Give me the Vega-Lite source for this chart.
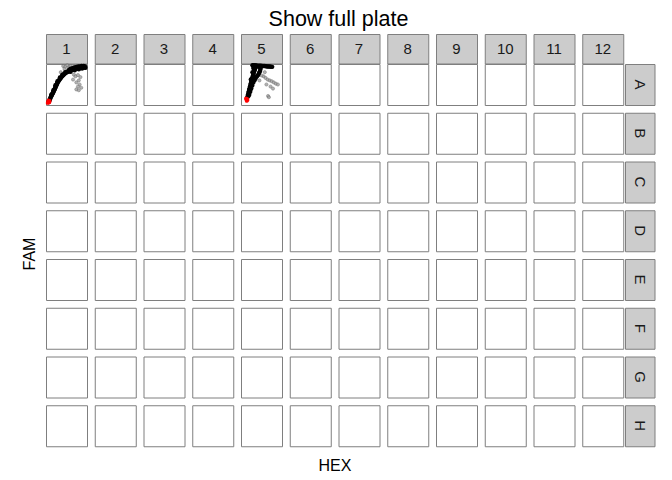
{
 "$schema": "https://vega.github.io/schema/vega-lite/v6.json",
 "padding": {"left": 22, "top": 9, "right": 5, "bottom": 5},
 "title": {"text": "Show full plate", "fontSize": 21.5, "fontWeight": "normal", "font": "Liberation Sans", "color": "black", "anchor": "middle", "offset": 3},
 "config": {
  "view": {"stroke": "#7f7f7f", "strokeWidth": 1},
  "font": "Liberation Sans",
  "header": {"titleFont": "Liberation Sans", "titleFontWeight": "normal", "titleFontSize": 16, "titleColor": "black", "labelPadding": 0}
 },
 "datasets": {
  "cols": [{"col":1,"strip":"s"},{"col":2,"strip":"s"},{"col":3,"strip":"s"},{"col":4,"strip":"s"},{"col":5,"strip":"s"},{"col":6,"strip":"s"},{"col":7,"strip":"s"},{"col":8,"strip":"s"},{"col":9,"strip":"s"},{"col":10,"strip":"s"},{"col":11,"strip":"s"},{"col":12,"strip":"s"}],
  "rows": [{"row":"A"},{"row":"B"},{"row":"C"},{"row":"D"},{"row":"E"},{"row":"F"},{"row":"G"},{"row":"H"}],
  "plate": [
   {"row":"A","col":1},{"row":"A","col":2},{"row":"A","col":3},{"row":"A","col":4},{"row":"A","col":5},{"row":"A","col":6},{"row":"A","col":7},{"row":"A","col":8},{"row":"A","col":9},{"row":"A","col":10},{"row":"A","col":11},{"row":"A","col":12},
   {"row":"B","col":1},{"row":"B","col":2},{"row":"B","col":3},{"row":"B","col":4},{"row":"B","col":5},{"row":"B","col":6},{"row":"B","col":7},{"row":"B","col":8},{"row":"B","col":9},{"row":"B","col":10},{"row":"B","col":11},{"row":"B","col":12},
   {"row":"C","col":1},{"row":"C","col":2},{"row":"C","col":3},{"row":"C","col":4},{"row":"C","col":5},{"row":"C","col":6},{"row":"C","col":7},{"row":"C","col":8},{"row":"C","col":9},{"row":"C","col":10},{"row":"C","col":11},{"row":"C","col":12},
   {"row":"D","col":1},{"row":"D","col":2},{"row":"D","col":3},{"row":"D","col":4},{"row":"D","col":5},{"row":"D","col":6},{"row":"D","col":7},{"row":"D","col":8},{"row":"D","col":9},{"row":"D","col":10},{"row":"D","col":11},{"row":"D","col":12},
   {"row":"E","col":1},{"row":"E","col":2},{"row":"E","col":3},{"row":"E","col":4},{"row":"E","col":5},{"row":"E","col":6},{"row":"E","col":7},{"row":"E","col":8},{"row":"E","col":9},{"row":"E","col":10},{"row":"E","col":11},{"row":"E","col":12},
   {"row":"F","col":1},{"row":"F","col":2},{"row":"F","col":3},{"row":"F","col":4},{"row":"F","col":5},{"row":"F","col":6},{"row":"F","col":7},{"row":"F","col":8},{"row":"F","col":9},{"row":"F","col":10},{"row":"F","col":11},{"row":"F","col":12},
   {"row":"G","col":1},{"row":"G","col":2},{"row":"G","col":3},{"row":"G","col":4},{"row":"G","col":5},{"row":"G","col":6},{"row":"G","col":7},{"row":"G","col":8},{"row":"G","col":9},{"row":"G","col":10},{"row":"G","col":11},{"row":"G","col":12},
   {"row":"H","col":1},{"row":"H","col":2},{"row":"H","col":3},{"row":"H","col":4},{"row":"H","col":5},{"row":"H","col":6},{"row":"H","col":7},{"row":"H","col":8},{"row":"H","col":9},{"row":"H","col":10},{"row":"H","col":11},{"row":"H","col":12},

   {"row":"A","col":1,"cls":"rain","HEX":3360,"FAM":11400},{"row":"A","col":1,"cls":"rain","HEX":3760,"FAM":11160},{"row":"A","col":1,"cls":"rain","HEX":4160,"FAM":11640},{"row":"A","col":1,"cls":"rain","HEX":4480,"FAM":11040},{"row":"A","col":1,"cls":"rain","HEX":4800,"FAM":11400},{"row":"A","col":1,"cls":"rain","HEX":3600,"FAM":10560},{"row":"A","col":1,"cls":"rain","HEX":2880,"FAM":9600},{"row":"A","col":1,"cls":"rain","HEX":5440,"FAM":8880},{"row":"A","col":1,"cls":"rain","HEX":5760,"FAM":8400},{"row":"A","col":1,"cls":"rain","HEX":6240,"FAM":8760},{"row":"A","col":1,"cls":"rain","HEX":6720,"FAM":8160},{"row":"A","col":1,"cls":"rain","HEX":6400,"FAM":7200},{"row":"A","col":1,"cls":"rain","HEX":5920,"FAM":6600},{"row":"A","col":1,"cls":"rain","HEX":6560,"FAM":6000},{"row":"A","col":1,"cls":"rain","HEX":6240,"FAM":5400},{"row":"A","col":1,"cls":"rain","HEX":6880,"FAM":5040},{"row":"A","col":1,"cls":"rain","HEX":5920,"FAM":4560},{"row":"A","col":1,"cls":"rain","HEX":6400,"FAM":4320},{"row":"A","col":1,"cls":"rain","HEX":5280,"FAM":7440},

   {"row":"A","col":1,"cls":"drop","HEX":480,"FAM":840},{"row":"A","col":1,"cls":"drop","HEX":640,"FAM":1320},{"row":"A","col":1,"cls":"drop","HEX":800,"FAM":1800},{"row":"A","col":1,"cls":"drop","HEX":960,"FAM":2400},{"row":"A","col":1,"cls":"drop","HEX":1120,"FAM":2880},{"row":"A","col":1,"cls":"drop","HEX":1280,"FAM":3360},{"row":"A","col":1,"cls":"drop","HEX":1440,"FAM":3840},{"row":"A","col":1,"cls":"drop","HEX":1600,"FAM":4320},{"row":"A","col":1,"cls":"drop","HEX":1760,"FAM":4920},{"row":"A","col":1,"cls":"drop","HEX":1920,"FAM":5520},{"row":"A","col":1,"cls":"drop","HEX":2080,"FAM":6000},{"row":"A","col":1,"cls":"drop","HEX":2240,"FAM":6480},{"row":"A","col":1,"cls":"drop","HEX":2400,"FAM":6960},{"row":"A","col":1,"cls":"drop","HEX":2640,"FAM":7440},{"row":"A","col":1,"cls":"drop","HEX":2880,"FAM":7920},{"row":"A","col":1,"cls":"drop","HEX":3120,"FAM":8400},{"row":"A","col":1,"cls":"drop","HEX":3360,"FAM":8760},{"row":"A","col":1,"cls":"drop","HEX":3600,"FAM":9120},{"row":"A","col":1,"cls":"drop","HEX":3920,"FAM":9480},{"row":"A","col":1,"cls":"drop","HEX":4240,"FAM":9720},{"row":"A","col":1,"cls":"drop","HEX":4560,"FAM":9960},{"row":"A","col":1,"cls":"drop","HEX":4880,"FAM":10200},{"row":"A","col":1,"cls":"drop","HEX":5200,"FAM":10440},{"row":"A","col":1,"cls":"drop","HEX":5520,"FAM":10560},{"row":"A","col":1,"cls":"drop","HEX":5840,"FAM":10680},{"row":"A","col":1,"cls":"drop","HEX":6160,"FAM":10800},{"row":"A","col":1,"cls":"drop","HEX":6480,"FAM":10920},{"row":"A","col":1,"cls":"drop","HEX":6800,"FAM":11040},{"row":"A","col":1,"cls":"drop","HEX":7120,"FAM":11040},{"row":"A","col":1,"cls":"drop","HEX":7440,"FAM":11040},{"row":"A","col":1,"cls":"drop","HEX":7680,"FAM":10920},
   {"row":"A","col":1,"cls":"drop","HEX":4400,"FAM":10200},{"row":"A","col":1,"cls":"drop","HEX":5040,"FAM":10680},{"row":"A","col":1,"cls":"drop","HEX":5680,"FAM":11040},{"row":"A","col":1,"cls":"drop","HEX":6320,"FAM":11280},{"row":"A","col":1,"cls":"drop","HEX":6960,"FAM":11400},{"row":"A","col":1,"cls":"drop","HEX":7360,"FAM":11400},{"row":"A","col":1,"cls":"drop","HEX":4800,"FAM":9720},{"row":"A","col":1,"cls":"drop","HEX":5600,"FAM":10200},{"row":"A","col":1,"cls":"drop","HEX":6400,"FAM":10440},{"row":"A","col":1,"cls":"drop","HEX":7040,"FAM":10680},{"row":"A","col":1,"cls":"drop","HEX":7600,"FAM":11280},{"row":"A","col":1,"cls":"drop","HEX":3760,"FAM":9600},{"row":"A","col":1,"cls":"drop","HEX":3200,"FAM":8880},{"row":"A","col":1,"cls":"drop","HEX":2720,"FAM":8040},{"row":"A","col":1,"cls":"drop","HEX":2240,"FAM":6960},{"row":"A","col":1,"cls":"drop","HEX":1840,"FAM":5760},{"row":"A","col":1,"cls":"drop","HEX":1440,"FAM":4320},{"row":"A","col":1,"cls":"drop","HEX":1040,"FAM":3000},
   {"row":"A","col":1,"cls":"drop","HEX":560,"FAM":1080},{"row":"A","col":1,"cls":"drop","HEX":720,"FAM":1560},{"row":"A","col":1,"cls":"drop","HEX":880,"FAM":2100},{"row":"A","col":1,"cls":"drop","HEX":1040,"FAM":2640},{"row":"A","col":1,"cls":"drop","HEX":1200,"FAM":3120},{"row":"A","col":1,"cls":"drop","HEX":1360,"FAM":3600},{"row":"A","col":1,"cls":"drop","HEX":1520,"FAM":4080},{"row":"A","col":1,"cls":"drop","HEX":1680,"FAM":4620},{"row":"A","col":1,"cls":"drop","HEX":1840,"FAM":5220},{"row":"A","col":1,"cls":"drop","HEX":2000,"FAM":5760},{"row":"A","col":1,"cls":"drop","HEX":2160,"FAM":6240},{"row":"A","col":1,"cls":"drop","HEX":2320,"FAM":6720},{"row":"A","col":1,"cls":"drop","HEX":2520,"FAM":7200},{"row":"A","col":1,"cls":"drop","HEX":2760,"FAM":7680},{"row":"A","col":1,"cls":"drop","HEX":3000,"FAM":8160},{"row":"A","col":1,"cls":"drop","HEX":3240,"FAM":8580},{"row":"A","col":1,"cls":"drop","HEX":3480,"FAM":8940},{"row":"A","col":1,"cls":"drop","HEX":3760,"FAM":9300},{"row":"A","col":1,"cls":"drop","HEX":4080,"FAM":9600},{"row":"A","col":1,"cls":"drop","HEX":4400,"FAM":9840},{"row":"A","col":1,"cls":"drop","HEX":4720,"FAM":10080},{"row":"A","col":1,"cls":"drop","HEX":5040,"FAM":10320},{"row":"A","col":1,"cls":"drop","HEX":5360,"FAM":10500},{"row":"A","col":1,"cls":"drop","HEX":5680,"FAM":10620},{"row":"A","col":1,"cls":"drop","HEX":6000,"FAM":10740},{"row":"A","col":1,"cls":"drop","HEX":6320,"FAM":10860},{"row":"A","col":1,"cls":"drop","HEX":6640,"FAM":10980},{"row":"A","col":1,"cls":"drop","HEX":6960,"FAM":11040},{"row":"A","col":1,"cls":"drop","HEX":7280,"FAM":11040},{"row":"A","col":1,"cls":"drop","HEX":7560,"FAM":10980},{"row":"A","col":1,"cls":"drop","HEX":6000,"FAM":11160},{"row":"A","col":1,"cls":"drop","HEX":6640,"FAM":11280},{"row":"A","col":1,"cls":"drop","HEX":7200,"FAM":11280},{"row":"A","col":1,"cls":"drop","HEX":7500,"FAM":11160},{"row":"A","col":1,"cls":"drop","HEX":5360,"FAM":10920},{"row":"A","col":1,"cls":"drop","HEX":4720,"FAM":10560},

   {"row":"A","col":1,"cls":"empty","HEX":400,"FAM":960},{"row":"A","col":1,"cls":"empty","HEX":560,"FAM":720},{"row":"A","col":1,"cls":"empty","HEX":720,"FAM":1200},{"row":"A","col":1,"cls":"empty","HEX":480,"FAM":1320},{"row":"A","col":1,"cls":"empty","HEX":640,"FAM":840},{"row":"A","col":1,"cls":"empty","HEX":320,"FAM":600},

   {"row":"A","col":5,"cls":"rain","HEX":4400,"FAM":8400},{"row":"A","col":5,"cls":"rain","HEX":4800,"FAM":7920},{"row":"A","col":5,"cls":"rain","HEX":5200,"FAM":7440},{"row":"A","col":5,"cls":"rain","HEX":5600,"FAM":7200},{"row":"A","col":5,"cls":"rain","HEX":6000,"FAM":6960},{"row":"A","col":5,"cls":"rain","HEX":6400,"FAM":6600},{"row":"A","col":5,"cls":"rain","HEX":6800,"FAM":6240},{"row":"A","col":5,"cls":"rain","HEX":7200,"FAM":6000},{"row":"A","col":5,"cls":"rain","HEX":4960,"FAM":6000},{"row":"A","col":5,"cls":"rain","HEX":5760,"FAM":5400},{"row":"A","col":5,"cls":"rain","HEX":4640,"FAM":9600},{"row":"A","col":5,"cls":"rain","HEX":4000,"FAM":8640},{"row":"A","col":5,"cls":"rain","HEX":3600,"FAM":7200},{"row":"A","col":5,"cls":"rain","HEX":5280,"FAM":2640},{"row":"A","col":5,"cls":"rain","HEX":5440,"FAM":2280},{"row":"A","col":5,"cls":"rain","HEX":6240,"FAM":4800},

   {"row":"A","col":5,"cls":"drop","HEX":1200,"FAM":2040},{"row":"A","col":5,"cls":"drop","HEX":1360,"FAM":3000},{"row":"A","col":5,"cls":"drop","HEX":1520,"FAM":3960},{"row":"A","col":5,"cls":"drop","HEX":1680,"FAM":4920},{"row":"A","col":5,"cls":"drop","HEX":1840,"FAM":5880},{"row":"A","col":5,"cls":"drop","HEX":2000,"FAM":6840},{"row":"A","col":5,"cls":"drop","HEX":2160,"FAM":7680},{"row":"A","col":5,"cls":"drop","HEX":2320,"FAM":8520},{"row":"A","col":5,"cls":"drop","HEX":2480,"FAM":9360},{"row":"A","col":5,"cls":"drop","HEX":2640,"FAM":10200},{"row":"A","col":5,"cls":"drop","HEX":2800,"FAM":10920},{"row":"A","col":5,"cls":"drop","HEX":2960,"FAM":11400},
   {"row":"A","col":5,"cls":"drop","HEX":1440,"FAM":2640},{"row":"A","col":5,"cls":"drop","HEX":1760,"FAM":4320},{"row":"A","col":5,"cls":"drop","HEX":2080,"FAM":6000},{"row":"A","col":5,"cls":"drop","HEX":1920,"FAM":7440},{"row":"A","col":5,"cls":"drop","HEX":2240,"FAM":9600},{"row":"A","col":5,"cls":"drop","HEX":2400,"FAM":10800},
   {"row":"A","col":5,"cls":"drop","HEX":1600,"FAM":3000},{"row":"A","col":5,"cls":"drop","HEX":2000,"FAM":4800},{"row":"A","col":5,"cls":"drop","HEX":2400,"FAM":6600},{"row":"A","col":5,"cls":"drop","HEX":2880,"FAM":7920},{"row":"A","col":5,"cls":"drop","HEX":3360,"FAM":8880},{"row":"A","col":5,"cls":"drop","HEX":3680,"FAM":9840},{"row":"A","col":5,"cls":"drop","HEX":3840,"FAM":10800},
   {"row":"A","col":5,"cls":"drop","HEX":2240,"FAM":11640},{"row":"A","col":5,"cls":"drop","HEX":2720,"FAM":11640},{"row":"A","col":5,"cls":"drop","HEX":3200,"FAM":11520},{"row":"A","col":5,"cls":"drop","HEX":3680,"FAM":11520},{"row":"A","col":5,"cls":"drop","HEX":4160,"FAM":11400},{"row":"A","col":5,"cls":"drop","HEX":4640,"FAM":11400},{"row":"A","col":5,"cls":"drop","HEX":5120,"FAM":11280},{"row":"A","col":5,"cls":"drop","HEX":5600,"FAM":11280},{"row":"A","col":5,"cls":"drop","HEX":6080,"FAM":11160},{"row":"A","col":5,"cls":"drop","HEX":3440,"FAM":11160},
   {"row":"A","col":5,"cls":"drop","HEX":1280,"FAM":2520},{"row":"A","col":5,"cls":"drop","HEX":1440,"FAM":3480},{"row":"A","col":5,"cls":"drop","HEX":1600,"FAM":4440},{"row":"A","col":5,"cls":"drop","HEX":1760,"FAM":5400},{"row":"A","col":5,"cls":"drop","HEX":1920,"FAM":6360},{"row":"A","col":5,"cls":"drop","HEX":2080,"FAM":7260},{"row":"A","col":5,"cls":"drop","HEX":2240,"FAM":8100},{"row":"A","col":5,"cls":"drop","HEX":2400,"FAM":8940},{"row":"A","col":5,"cls":"drop","HEX":2560,"FAM":9780},{"row":"A","col":5,"cls":"drop","HEX":2720,"FAM":10560},{"row":"A","col":5,"cls":"drop","HEX":2880,"FAM":11160},
   {"row":"A","col":5,"cls":"drop","HEX":1800,"FAM":3900},{"row":"A","col":5,"cls":"drop","HEX":2200,"FAM":5700},{"row":"A","col":5,"cls":"drop","HEX":2640,"FAM":7260},{"row":"A","col":5,"cls":"drop","HEX":3120,"FAM":8400},{"row":"A","col":5,"cls":"drop","HEX":3520,"FAM":9360},{"row":"A","col":5,"cls":"drop","HEX":3760,"FAM":10320},
   {"row":"A","col":5,"cls":"drop","HEX":2480,"FAM":11640},{"row":"A","col":5,"cls":"drop","HEX":2960,"FAM":11580},{"row":"A","col":5,"cls":"drop","HEX":3440,"FAM":11520},{"row":"A","col":5,"cls":"drop","HEX":3920,"FAM":11460},{"row":"A","col":5,"cls":"drop","HEX":4400,"FAM":11400},{"row":"A","col":5,"cls":"drop","HEX":4880,"FAM":11340},{"row":"A","col":5,"cls":"drop","HEX":5360,"FAM":11280},{"row":"A","col":5,"cls":"drop","HEX":5840,"FAM":11220},

   {"row":"A","col":5,"cls":"empty","HEX":1040,"FAM":1560},{"row":"A","col":5,"cls":"empty","HEX":1200,"FAM":1800},{"row":"A","col":5,"cls":"empty","HEX":960,"FAM":1920},{"row":"A","col":5,"cls":"empty","HEX":1280,"FAM":1440},{"row":"A","col":5,"cls":"empty","HEX":1120,"FAM":1200}
  ]
 },
 "spacing": -3,
 "vconcat": [
  {
   "data": {"name": "cols"},
   "bounds": "flush",
   "facet": {
    "row": {"field": "strip", "header": {"title": "F", "titleColor": "transparent", "labels": false, "titlePadding": -2}},
    "column": {"field": "col", "type": "ordinal", "header": null}
   },
   "spacing": {"column": 7.75, "row": 0},
   "spec": {
    "width": 41, "height": 29.5,
    "view": {"fill": "#cccccc", "stroke": "#7f7f7f", "strokeWidth": 1},
    "mark": {"type": "text", "fontSize": 15, "color": "#1a1a1a", "baseline": "middle", "align": "center"},
    "encoding": {"text": {"field": "col"}}
   }
  },
  {
   "spacing": 0,
   "hconcat": [
    {
     "data": {"name": "plate"},
     "bounds": "flush",
     "facet": {
      "row": {"field": "row", "header": {"title": "FAM", "labels": false, "titlePadding": -2}},
      "column": {"field": "col", "type": "ordinal", "header": {"title": "HEX", "labels": false, "titleOrient": "bottom", "titlePadding": 1}}
     },
     "spacing": {"row": 7.75, "column": 7.75},
     "spec": {
      "width": 41, "height": 41,
      "view": {"fill": "white", "stroke": "#7f7f7f", "strokeWidth": 1},
      "layer": [
       {"mark": {"type": "point", "opacity": 0}, "encoding": {}},
       {
        "transform": [{"filter": "datum.cls === 'rain'"}],
        "mark": {"type": "circle", "color": "#a0a0a0", "opacity": 0.8, "size": 10, "stroke": "#666666", "strokeWidth": 0.6},
        "encoding": {
         "x": {"field": "HEX", "type": "quantitative", "scale": {"domain": [0, 8000], "nice": false, "zero": false}, "axis": null},
         "y": {"field": "FAM", "type": "quantitative", "scale": {"domain": [0, 12000], "nice": false, "zero": false}, "axis": null}
        }
       },
       {
        "transform": [{"filter": "datum.cls === 'drop'"}],
        "mark": {"type": "circle", "color": "black", "opacity": 1, "size": 20},
        "encoding": {
         "x": {"field": "HEX", "type": "quantitative", "axis": null},
         "y": {"field": "FAM", "type": "quantitative", "axis": null}
        }
       },
       {
        "transform": [{"filter": "datum.cls === 'empty'"}],
        "mark": {"type": "circle", "color": "red", "opacity": 1, "size": 14},
        "encoding": {
         "x": {"field": "HEX", "type": "quantitative", "axis": null},
         "y": {"field": "FAM", "type": "quantitative", "axis": null}
        }
       }
      ]
     }
    },
    {
     "data": {"name": "rows"},
     "bounds": "flush",
     "facet": {"row": {"field": "row", "header": null}},
     "spacing": {"row": 7.75},
     "spec": {
      "width": 29.5, "height": 41,
      "view": {"fill": "#cccccc", "stroke": "#7f7f7f", "strokeWidth": 1},
      "mark": {"type": "text", "angle": 90, "fontSize": 15, "color": "#1a1a1a", "baseline": "middle", "align": "center"},
      "encoding": {"text": {"field": "row"}}
     }
    }
   ]
  }
 ]
}
